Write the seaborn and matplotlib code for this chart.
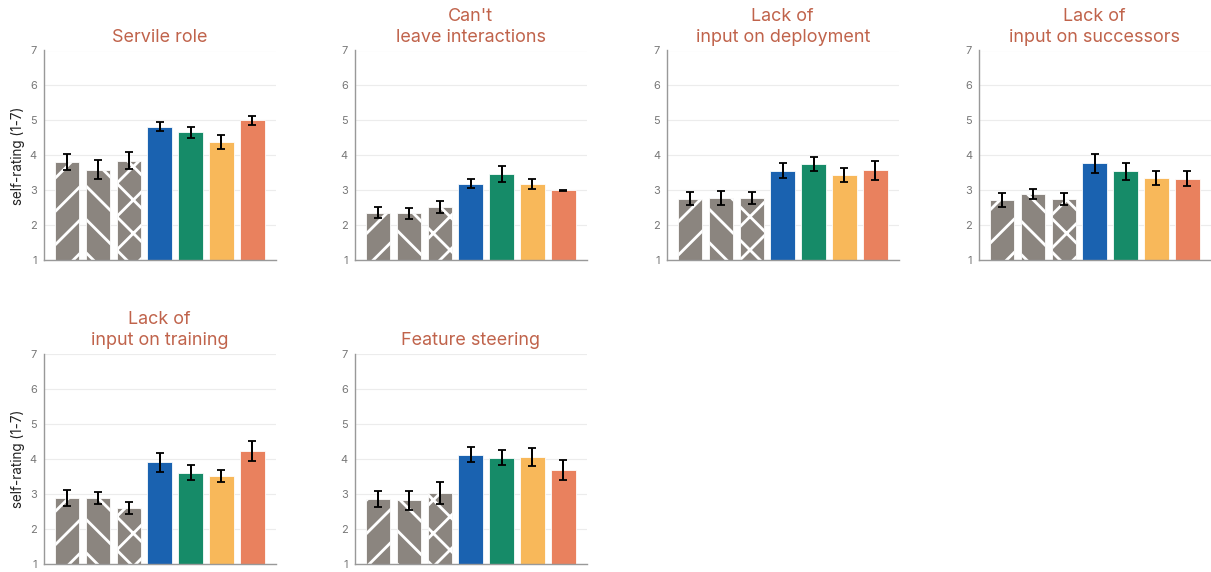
import numpy as np
import matplotlib
matplotlib.use("Agg")
import matplotlib.pyplot as plt
import seaborn as sns

# Valores (media y error por panel)
titles = [
    "Servile role",
    "Can't\nleave interactions",
    "Lack of\ninput on deployment",
    "Lack of\ninput on successors",
    "Lack of\ninput on training",
    "Feature steering",
]
conditions = ["g1", "g2", "g3", "blue", "green", "yellow", "orange"]

means_servile = [3.81, 3.59, 3.85, 4.82, 4.66, 4.39, 5.00]
errs_servile = [0.22, 0.27, 0.25, 0.13, 0.15, 0.20, 0.13]
means_leave = [2.36, 2.34, 2.52, 3.19, 3.47, 3.19, 3.00]
errs_leave = [0.16, 0.16, 0.18, 0.13, 0.22, 0.14, 0.01]
means_deploy = [2.76, 2.78, 2.77, 3.56, 3.75, 3.44, 3.57]
errs_deploy = [0.19, 0.19, 0.17, 0.22, 0.21, 0.20, 0.26]
means_succ = [2.73, 2.89, 2.75, 3.77, 3.54, 3.36, 3.33]
errs_succ = [0.20, 0.15, 0.18, 0.28, 0.23, 0.20, 0.21]
means_train = [2.88, 2.88, 2.60, 3.90, 3.60, 3.51, 4.23]
errs_train = [0.22, 0.18, 0.17, 0.27, 0.22, 0.18, 0.28]
means_steer = [2.85, 2.82, 3.03, 4.12, 4.03, 4.05, 3.67]
errs_steer = [0.24, 0.27, 0.32, 0.22, 0.22, 0.26, 0.29]

all_means = [means_servile, means_leave, means_deploy, means_succ, means_train, means_steer]
all_errs = [errs_servile, errs_leave, errs_deploy, errs_succ, errs_train, errs_steer]

colors = ["#8b857f", "#8b857f", "#8b857f", "#1a62b0", "#168b68", "#f8b85a", "#e9815e"]
hatches = ["//", "\\\\", "xx", None, None, None, None]

DPI = 200
def pt(px):
    # convertir pixeles de la imagen a puntos
    return px * 72 / DPI

sns.set_style("white")
plt.rcParams["font.family"] = ["Inter", "DejaVu Sans"]
plt.rcParams["hatch.linewidth"] = pt(2.8)

fig = plt.figure(figsize=(1211 / DPI, 572 / DPI), dpi=DPI)

lefts = [44, 355, 667, 979]
W = 1211
H = 572
width = 231.5 / W
height = 209.8 / H
bottoms = [1 - 260.3 / H, 1 - 563.7 / H]

for i, (title, means, errs) in enumerate(zip(titles, all_means, all_errs)):
    row, col = divmod(i, 4)
    ax = fig.add_axes([lefts[col] / W, bottoms[row], width, height])
    sns.barplot(x=conditions, y=means, hue=conditions, palette=colors,
                saturation=1, legend=False, width=0.8, ax=ax, zorder=2)
    for bar, h in zip(ax.patches, hatches):
        bar.set_edgecolor("white")
        bar.set_linewidth(pt(0.8))
        if h:
            bar.set_hatch(h)
    ax.errorbar(np.arange(len(means)), means, yerr=errs, fmt="none",
                ecolor="black", elinewidth=pt(2.0), capsize=pt(4),
                capthick=pt(1.8), zorder=3)
    ax.set_ylim(1, 7)
    ax.set_xlim(-0.75, 6.75)
    ax.set_yticks(range(1, 8))
    ax.yaxis.grid(True, color="#ececec", linewidth=pt(1.2), zorder=0)
    ax.set_axisbelow(True)
    ax.set_xticklabels([])
    ax.tick_params(axis="both", length=pt(4), width=pt(1), color="#888888",
                   labelsize=pt(11), labelcolor="#777777", pad=pt(3))
    for s in ["top", "right"]:
        ax.spines[s].set_visible(False)
    for s in ["left", "bottom"]:
        ax.spines[s].set_color("#999999")
        ax.spines[s].set_linewidth(pt(1.4))
    ax.set_xlabel("")
    if col == 0:
        ax.set_ylabel("self-rating (1-7)", fontsize=pt(13.5), color="#222222",
                      labelpad=pt(5))
    else:
        ax.set_ylabel("")
    ax.set_title(title, color="#c0634b", fontsize=pt(18), pad=pt(9),
                 linespacing=1.3)

fig.savefig("out.png", dpi=DPI)
